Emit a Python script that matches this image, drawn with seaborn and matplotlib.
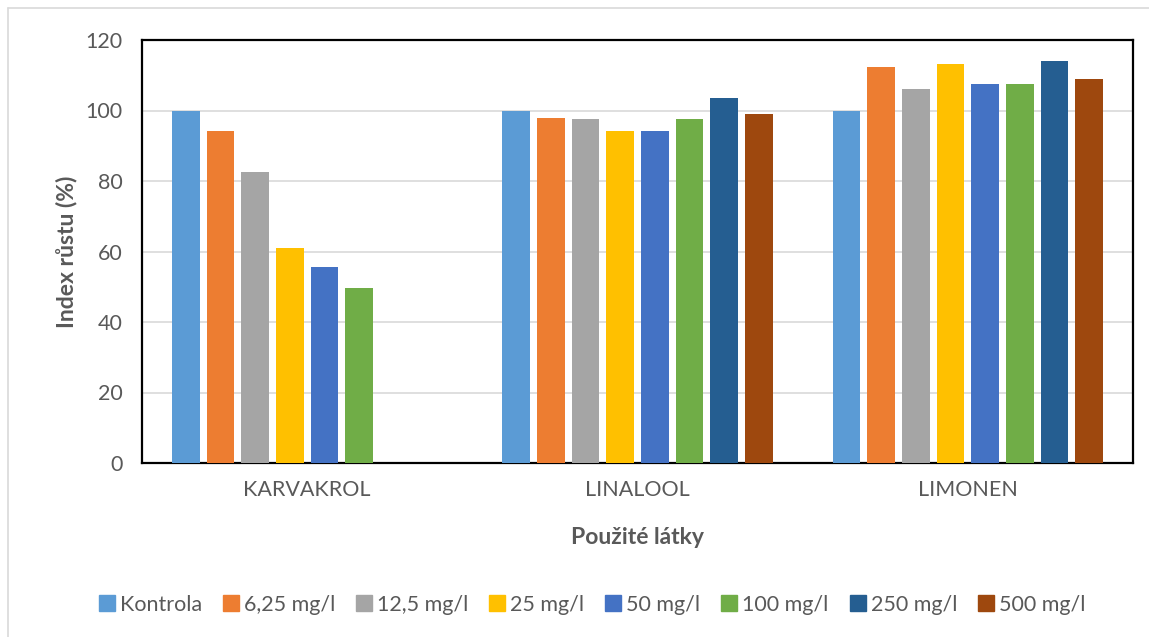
import matplotlib
matplotlib.use("Agg")
import matplotlib.pyplot as plt
import matplotlib.lines as mlines
import seaborn as sns
import pandas as pd
import numpy as np

categories = ["KARVAKROL", "LINALOOL", "LIMONEN"]
series = ["Kontrola", "6,25 mg/l", "12,5 mg/l", "25 mg/l", "50 mg/l", "100 mg/l", "250 mg/l", "500 mg/l"]
karvakrol = [100, 94.2, 82.6, 61.0, 55.6, 49.6, np.nan, np.nan]
linalool = [100, 98.0, 97.7, 94.1, 94.1, 97.5, 103.5, 99.0]
limonen = [100, 112.2, 106.2, 113.2, 107.5, 107.5, 114.0, 108.9]
colors = ["#5B9BD5", "#ED7D31", "#A5A5A5", "#FFC000", "#4472C4", "#70AD47", "#255E91", "#9E480E"]
yticks = [0, 20, 40, 60, 80, 100, 120]

rows = []
for cat, vals in zip(categories, [karvakrol, linalool, limonen]):
    for s, v in zip(series, vals):
        if not np.isnan(v):
            rows.append({"cat": cat, "series": s, "val": v})
df = pd.DataFrame(rows)

sns.set_style("white")
plt.rcParams["font.family"] = ["Lato", "DejaVu Sans"]

fig = plt.figure(figsize=(11.49, 6.37), dpi=100)
ax = fig.add_axes([142/1149, 1-463/637, (1133-142)/1149, (463-40)/637])

sns.barplot(data=df, x="cat", y="val", hue="series", order=categories, hue_order=series,
            palette=colors, width=0.84, gap=0.2, ax=ax, saturation=1, legend=False,
            linewidth=0, zorder=3)

ax.set_ylim(0, 120)
ax.set_xlim(-0.5, 2.5)
ax.set_yticks(yticks)
ax.set_yticklabels([str(t) for t in yticks])
ax.grid(axis="y", color="#D9D9D9", linewidth=1.2, zorder=0)
ax.set_axisbelow(True)
for sp in ax.spines.values():
    sp.set_visible(True)
    sp.set_color("black")
    sp.set_linewidth(1.6)
ax.tick_params(axis="both", length=0, labelsize=15.5, colors="#595959", pad=14)
ax.tick_params(axis="x", pad=12)
ax.set_ylabel("Index růstu (%)", fontsize=16.5, fontweight="bold", color="#595959", labelpad=6)
ax.set_xlabel("Použité látky", fontsize=16.5, fontweight="bold", color="#595959", labelpad=20)

handles = [mlines.Line2D([], [], marker="s", linestyle="none", markersize=12,
                         markerfacecolor=c, markeredgecolor=c) for c in colors]
fig.legend(handles, series, loc="center", bbox_to_anchor=(0.515, 1-605/637), ncol=8,
           frameon=False, fontsize=15.5, handlelength=0.8, handletextpad=0.2,
           columnspacing=0.95, labelcolor="#595959")

# outer chart frame
fig.add_artist(mlines.Line2D([8/1149, 8/1149], [0, 1-8/637], transform=fig.transFigure,
                             color="#D9D9D9", linewidth=1.2))
fig.add_artist(mlines.Line2D([8/1149, 1], [1-8/637, 1-8/637], transform=fig.transFigure,
                             color="#D9D9D9", linewidth=1.2))

fig.savefig("out.png", dpi=100, facecolor="white")
